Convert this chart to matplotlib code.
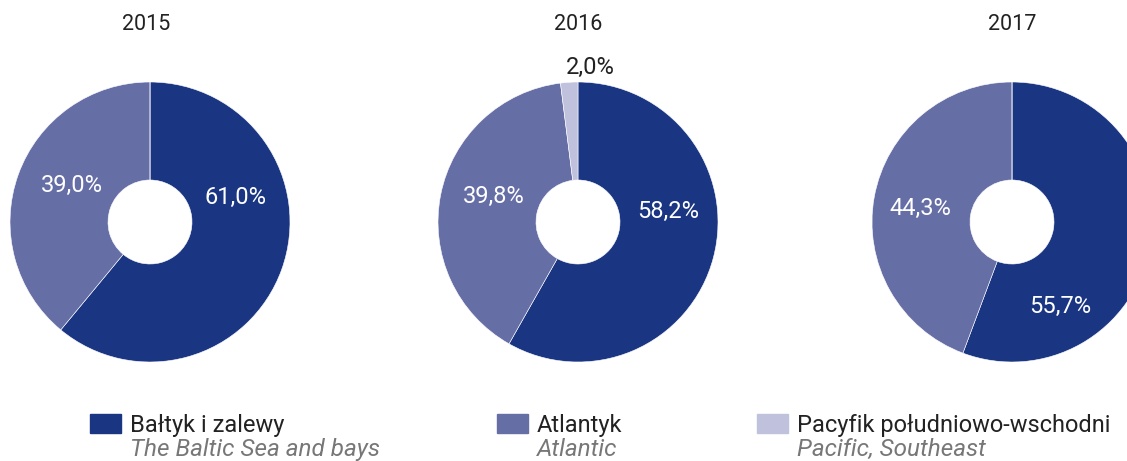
import matplotlib.pyplot as plt
from matplotlib.patches import Rectangle

plt.rcParams['font.family'] = ['Roboto', 'DejaVu Sans']

# --- Dane ---
years = ['2015', '2016', '2017']
baltic = [61.0, 58.2, 55.7]
atlantic = [39.0, 39.8, 44.3]
pacific = [0.0, 2.0, 0.0]

labels_pl = ['Bałtyk i zalewy', 'Atlantyk', 'Pacyfik południowo-wschodni']
labels_en = ['The Baltic Sea and bays', 'Atlantic', 'Pacific, Southeast']
colors = ['#1a3582', '#666ea6', '#bfc1dd']

# --- Układ (w pikselach) ---
W, H = 1127, 461
centers_x = [150, 578, 1012]
center_y = 239
R = 140
hole = 42
# przesunięcia etykiet (dx, dy) względem środka donuta
label_offsets = [
    [(86, 25), (-78, 37), None],
    [(90, 11), (-84, 26), (12, 155)],
    [(48, -84), (-92, 14), None],
]
title_x = [146, 578, 1012]

fig = plt.figure(figsize=(W / 100, H / 100), dpi=100)
ax = fig.add_axes([0, 0, 1, 1])

for i, yr in enumerate(years):
    vals = [baltic[i], atlantic[i], pacific[i]]
    cx = centers_x[i]
    ax.pie(vals, colors=colors, startangle=90, counterclock=False,
           center=(cx, center_y), radius=R,
           wedgeprops=dict(width=R - hole, edgecolor='white', linewidth=0.4))
    for j, v in enumerate(vals):
        off = label_offsets[i][j]
        if off is None or v == 0:
            continue
        txt = f"{v:.1f}".replace('.', ',') + '%'
        col = '#222222' if j == 2 else 'white'
        ax.text(cx + off[0], center_y + off[1], txt, color=col,
                fontsize=17, ha='center', va='center')
    ax.text(title_x[i], H - 25, yr, fontsize=15.5, color='#222222',
            ha='center', va='center')

# --- Legenda ---
leg_sq_x = [90, 497, 757]
for k in range(3):
    ax.add_patch(Rectangle((leg_sq_x[k], H - 433), 31, 19, color=colors[k],
                           clip_on=False))
    ax.text(leg_sq_x[k] + 40, H - 425, labels_pl[k], fontsize=17,
            color='#222222', ha='left', va='center')
    ax.text(leg_sq_x[k] + 40, H - 449, labels_en[k], fontsize=17.5,
            color='#777777', style='italic', ha='left', va='center')

ax.set_xlim(0, W)
ax.set_ylim(0, H)
ax.set_aspect('auto')
ax.axis('off')

fig.savefig('out.png', dpi=100)
